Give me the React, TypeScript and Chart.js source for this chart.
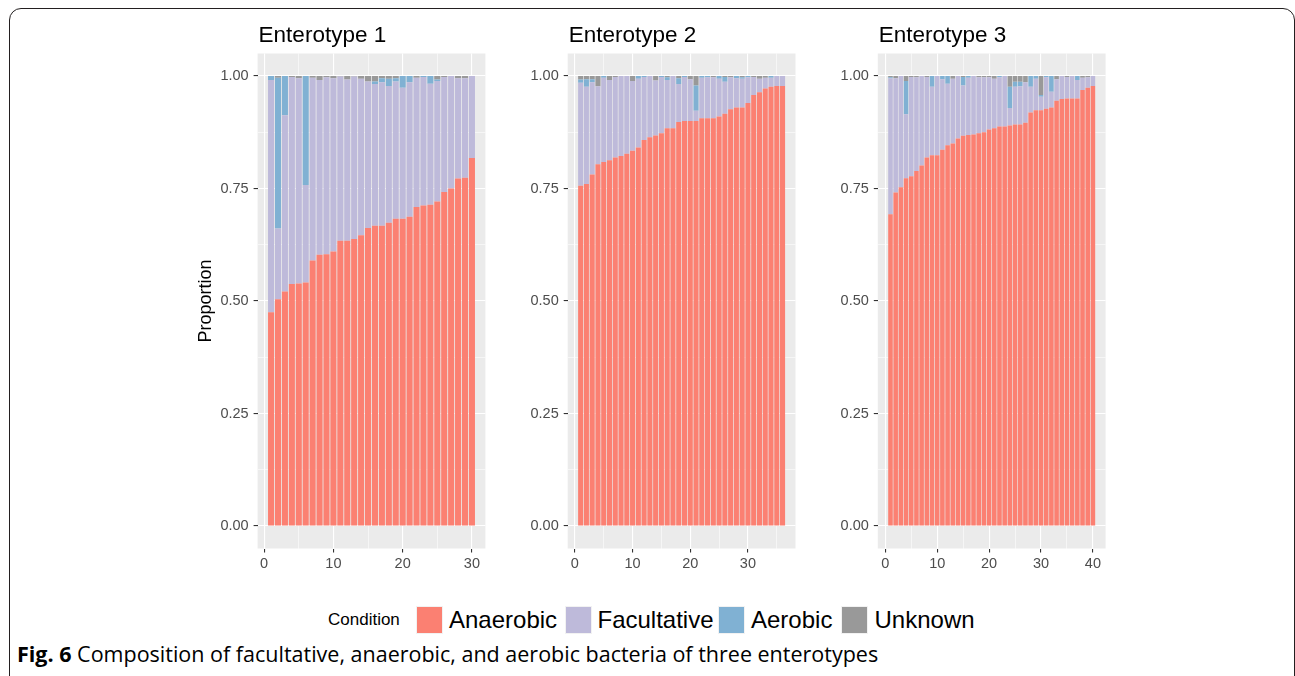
import React, { useEffect, useRef } from 'react';
import { Chart, registerables } from 'chart.js';

Chart.register(...registerables);

// ---------------- data ----------------
const panelTitles = ['Enterotype 1', 'Enterotype 2', 'Enterotype 3'];
const conditions = ['Anaerobic', 'Facultative', 'Aerobic', 'Unknown'];
const conditionColors = ['#FB8072', '#BEBADA', '#80B1D3', '#999999'];
const legendTitle = 'Condition';
const yAxisTitle = 'Proportion';
const yMajorTicks = [0, 0.25, 0.5, 0.75, 1];
const xMajorTicks1 = [0, 10, 20, 30];
const xMajorTicks2 = [0, 10, 20, 30];
const xMajorTicks3 = [0, 10, 20, 30, 40];

// Enterotype 1 (30 samples)
const e1Anaerobic = [0.475, 0.504, 0.521, 0.538, 0.539, 0.541, 0.590, 0.603, 0.604, 0.610, 0.634, 0.634, 0.638, 0.646, 0.662, 0.667, 0.667, 0.674, 0.683, 0.683, 0.687, 0.709, 0.712, 0.714, 0.721, 0.742, 0.750, 0.772, 0.774, 0.818];
const e1Facultative = [0.516, 0.157, 0.392, 0.460, 0.456, 0.217, 0.406, 0.388, 0.393, 0.385, 0.365, 0.358, 0.361, 0.348, 0.326, 0.315, 0.319, 0.304, 0.305, 0.291, 0.299, 0.287, 0.286, 0.269, 0.268, 0.256, 0.250, 0.223, 0.221, 0.182];
const e1Aerobic = [0.009, 0.335, 0.087, 0, 0, 0.242, 0, 0, 0, 0, 0, 0, 0, 0, 0, 0.006, 0.009, 0.016, 0.007, 0.026, 0.014, 0, 0.002, 0.017, 0.003, 0, 0, 0, 0, 0];
const e1Unknown = [0, 0.004, 0, 0.002, 0.005, 0, 0.004, 0.009, 0.003, 0.005, 0.001, 0.008, 0.001, 0.006, 0.012, 0.012, 0.005, 0.006, 0.005, 0, 0, 0.004, 0, 0, 0.008, 0.002, 0, 0.005, 0.005, 0];

// Enterotype 2 (36 samples)
const e2Anaerobic = [0.756, 0.760, 0.781, 0.804, 0.809, 0.813, 0.819, 0.822, 0.827, 0.834, 0.841, 0.858, 0.864, 0.868, 0.873, 0.884, 0.884, 0.898, 0.900, 0.900, 0.900, 0.906, 0.906, 0.906, 0.910, 0.916, 0.926, 0.930, 0.930, 0.940, 0.958, 0.964, 0.972, 0.976, 0.978, 0.978];
const e2Facultative = [0.229, 0.216, 0.205, 0.173, 0.187, 0.178, 0.179, 0.178, 0.173, 0.155, 0.153, 0.140, 0.136, 0.122, 0.125, 0.107, 0.116, 0.084, 0.098, 0.093, 0.023, 0.090, 0.091, 0.091, 0.084, 0.071, 0.071, 0.065, 0.064, 0.057, 0.040, 0.030, 0.024, 0.020, 0.022, 0.022];
const e2Aerobic = [0.007, 0.017, 0.007, 0, 0.004, 0, 0, 0, 0, 0, 0.006, 0.002, 0, 0, 0.002, 0.006, 0, 0.013, 0.002, 0, 0.056, 0.004, 0.003, 0, 0.006, 0.011, 0, 0.005, 0.003, 0.003, 0, 0, 0, 0.004, 0, 0];
const e2Unknown = [0.008, 0.007, 0.007, 0.023, 0, 0.009, 0.002, 0, 0, 0.011, 0, 0, 0, 0.010, 0, 0.003, 0, 0.005, 0, 0.007, 0.021, 0, 0, 0.003, 0, 0.002, 0.003, 0, 0.003, 0, 0.002, 0.006, 0.004, 0, 0, 0];

// Enterotype 3 (40 samples)
const e3Anaerobic = [0.693, 0.741, 0.753, 0.773, 0.777, 0.789, 0.801, 0.819, 0.824, 0.824, 0.836, 0.846, 0.850, 0.861, 0.867, 0.869, 0.870, 0.873, 0.875, 0.881, 0.884, 0.888, 0.888, 0.890, 0.892, 0.892, 0.896, 0.919, 0.924, 0.924, 0.927, 0.930, 0.945, 0.949, 0.950, 0.950, 0.950, 0.969, 0.974, 0.978];
const e3Facultative = [0.302, 0.254, 0.247, 0.142, 0.221, 0.208, 0.199, 0.179, 0.152, 0.176, 0.157, 0.137, 0.144, 0.139, 0.112, 0.127, 0.130, 0.124, 0.122, 0.116, 0.110, 0.109, 0.112, 0.039, 0.084, 0.085, 0.090, 0.057, 0.070, 0.030, 0.070, 0.035, 0.048, 0.051, 0.048, 0.050, 0.041, 0.027, 0.023, 0.022];
const e3Aerobic = [0.002, 0, 0, 0.074, 0, 0, 0, 0, 0.024, 0, 0.007, 0.017, 0, 0, 0.019, 0.004, 0, 0, 0, 0, 0, 0.003, 0, 0.047, 0.011, 0.010, 0, 0.024, 0.006, 0.004, 0.003, 0.035, 0, 0, 0, 0, 0.009, 0, 0, 0];
const e3Unknown = [0.003, 0.005, 0, 0.011, 0.002, 0.003, 0, 0.002, 0, 0, 0, 0, 0.006, 0, 0.002, 0, 0, 0.003, 0.003, 0.003, 0.006, 0, 0, 0.024, 0.013, 0.013, 0.014, 0, 0, 0.042, 0, 0, 0.007, 0, 0.002, 0, 0, 0.004, 0.003, 0];

const panelSeries = [
  [e1Anaerobic, e1Facultative, e1Aerobic, e1Unknown],
  [e2Anaerobic, e2Facultative, e2Aerobic, e2Unknown],
  [e3Anaerobic, e3Facultative, e3Aerobic, e3Unknown],
];
const panelXTicks = [xMajorTicks1, xMajorTicks2, xMajorTicks3];

const captionBold = 'Fig. 6';
const captionText = ' Composition of facultative, anaerobic, and aerobic bacteria of three enterotypes';

// ---------------- layout ----------------
const FONT = '"Liberation Sans", Arial, Helvetica, sans-serif';
const PANEL_LEFTS = [257.6, 567.7, 877.8];
const PANEL_W = 227.8;
const PANEL_TOP = 53.5;
const PANEL_BOTTOM = 548.5;
const CANVAS_W = 320;
const CANVAS_H = 582;
const Y_AXIS_ROOM = 70;

const panelDecor = {
  id: 'panelDecor',
  beforeDraw(chart: any) {
    const { ctx, chartArea } = chart;
    ctx.save();
    ctx.fillStyle = '#EBEBEB';
    ctx.fillRect(chartArea.left, chartArea.top, chartArea.right - chartArea.left, chartArea.bottom - chartArea.top);
    ctx.restore();
  },
  afterDraw(chart: any, _args: any, opts: any) {
    const { ctx, chartArea } = chart;
    ctx.save();
    ctx.font = `22.5px ${FONT}`;
    ctx.fillStyle = '#000000';
    ctx.textAlign = 'left';
    ctx.textBaseline = 'alphabetic';
    ctx.fillText(opts.text, chartArea.left + 1, 41.8);
    ctx.restore();
  },
};

const near = (a: number, b: number) => Math.abs(a - b) < 1e-9;

function makeConfig(i: number) {
  const series = panelSeries[i];
  const n = series[0].length;
  const majors = panelXTicks[i];
  const lo = 0.55;
  const hi = n + 0.45;
  const pad = (hi - lo) * 0.05;
  const xMin = lo - pad;
  const xMax = hi + pad;
  const canvasLeft = Math.floor(PANEL_LEFTS[i]) - Y_AXIS_ROOM;
  const yw = PANEL_LEFTS[i] - canvasLeft;
  const padRight = CANVAS_W - yw - PANEL_W;

  const isMajorY = (v: number) => yMajorTicks.some((t) => near(t, v));
  const isMajorX = (v: number) => majors.some((t) => near(t, v));

  const xTickVals: number[] = [];
  majors.forEach((m) => {
    xTickVals.push(m);
    if (m + 5 <= xMax) xTickVals.push(m + 5);
  });
  const yTickVals: number[] = [];
  yMajorTicks.forEach((m, k) => {
    yTickVals.push(m);
    if (k < yMajorTicks.length - 1) yTickVals.push((m + yMajorTicks[k + 1]) / 2);
  });

  return {
    type: 'bar' as const,
    data: {
      datasets: conditions.map((c, k) => ({
        label: c,
        data: series[k].map((v, j) => ({ x: j + 1, y: v })),
        backgroundColor: conditionColors[k],
        borderWidth: 0,
        barPercentage: 0.88,
        categoryPercentage: 1,
      })),
    },
    options: {
      animation: false as const,
      responsive: false,
      devicePixelRatio: 1,
      layout: { padding: { top: PANEL_TOP, bottom: 0, left: 0, right: padRight } },
      plugins: {
        legend: { display: false },
        tooltip: { enabled: false },
        panelDecor: { text: panelTitles[i] },
      },
      scales: {
        x: {
          type: 'linear' as const,
          stacked: true,
          offset: false,
          min: xMin,
          max: xMax,
          bounds: 'data' as const,
          afterBuildTicks: (scale: any) => {
            scale.ticks = xTickVals.map((v) => ({ value: v }));
          },
          afterFit: (scale: any) => {
            scale.height = CANVAS_H - PANEL_BOTTOM;
          },
          border: { display: false },
          grid: {
            offset: false,
            color: '#FFFFFF',
            lineWidth: (ctx: any) => (ctx.tick && isMajorX(ctx.tick.value) ? 1.1 : 0.55),
            drawTicks: true,
            tickLength: 4,
            tickWidth: 1.1,
            tickColor: (ctx: any) => (ctx.tick && isMajorX(ctx.tick.value) ? '#333333' : 'rgba(0,0,0,0)'),
          },
          ticks: {
            autoSkip: false,
            maxRotation: 0,
            padding: 3,
            color: '#4D4D4D',
            font: { family: FONT, size: 14.5 },
            callback: (v: any) => (isMajorX(Number(v)) ? String(v) : ''),
          },
        },
        y: {
          type: 'linear' as const,
          stacked: true,
          min: -0.05,
          max: 1.05,
          bounds: 'data' as const,
          afterBuildTicks: (scale: any) => {
            scale.ticks = yTickVals.map((v) => ({ value: v }));
          },
          afterFit: (scale: any) => {
            scale.width = yw;
          },
          border: { display: false },
          title: {
            display: i === 0,
            text: yAxisTitle,
            color: '#000000',
            font: { family: FONT, size: 18 },
            padding: { top: 8.5, bottom: 0 },
          },
          grid: {
            color: '#FFFFFF',
            lineWidth: (ctx: any) => (ctx.tick && isMajorY(ctx.tick.value) ? 1.1 : 0.55),
            drawTicks: true,
            tickLength: 4,
            tickWidth: 1.1,
            tickColor: (ctx: any) => (ctx.tick && isMajorY(ctx.tick.value) ? '#333333' : 'rgba(0,0,0,0)'),
          },
          ticks: {
            autoSkip: false,
            padding: 5,
            color: '#4D4D4D',
            font: { family: FONT, size: 14.5 },
            callback: (v: any) => (isMajorY(Number(v)) ? Number(v).toFixed(2) : ''),
          },
        },
      },
    },
    plugins: [panelDecor],
  };
}

const legendSwatchX = [415.5, 564.7, 718, 841];
const legendLabelX = [449, 597.5, 751, 874.5];

export default function App() {
  const r0 = useRef<HTMLCanvasElement>(null);
  const r1 = useRef<HTMLCanvasElement>(null);
  const r2 = useRef<HTMLCanvasElement>(null);
  const refs = [r0, r1, r2];

  useEffect(() => {
    const charts = refs.map((r, i) => new Chart(r.current as HTMLCanvasElement, makeConfig(i) as any));
    return () => charts.forEach((c) => c.destroy());
  }, []);

  return (
    <div
      style={{
        position: 'absolute',
        left: 0,
        top: 0,
        width: 1295,
        height: 676,
        overflow: 'hidden',
        background: '#FFFFFF',
      }}
    >
      <div
        style={{
          position: 'absolute',
          left: 8.5,
          top: 7.5,
          width: 1286,
          height: 690,
          border: '1.6px solid #231F20',
          borderRadius: 12,
          boxSizing: 'border-box',
        }}
      />
      {refs.map((r, i) => (
        <canvas
          key={i}
          ref={r}
          width={CANVAS_W}
          height={CANVAS_H}
          style={{
            position: 'absolute',
            left: Math.floor(PANEL_LEFTS[i]) - Y_AXIS_ROOM,
            top: 0,
            width: CANVAS_W,
            height: CANVAS_H,
          }}
        />
      ))}
      <div
        style={{
          position: 'absolute',
          left: 328,
          top: 606,
          height: 28,
          lineHeight: '28px',
          fontFamily: FONT,
          fontSize: 17,
          color: '#000',
          whiteSpace: 'nowrap',
        }}
      >
        {legendTitle}
      </div>
      {conditions.map((c, k) => (
        <React.Fragment key={c}>
          <div
            style={{
              position: 'absolute',
              left: legendSwatchX[k],
              top: 606,
              width: 27,
              height: 28,
              background: conditionColors[k],
              boxSizing: 'border-box',
              border: '1px solid #F2F2F2',
            }}
          />
          <div
            style={{
              position: 'absolute',
              left: legendLabelX[k],
              top: 606,
              height: 28,
              lineHeight: '28px',
              fontFamily: FONT,
              fontSize: 24,
              color: '#000',
              whiteSpace: 'nowrap',
            }}
          >
            {c}
          </div>
        </React.Fragment>
      ))}
      <div
        style={{
          position: 'absolute',
          left: 17,
          top: 642,
          lineHeight: '24px',
          fontFamily: '"Open Sans", "Noto Sans", sans-serif',
          fontSize: 21.5,
          color: '#000',
          whiteSpace: 'nowrap',
        }}
      >
        <b>{captionBold}</b>
        {captionText}
      </div>
    </div>
  );
}
